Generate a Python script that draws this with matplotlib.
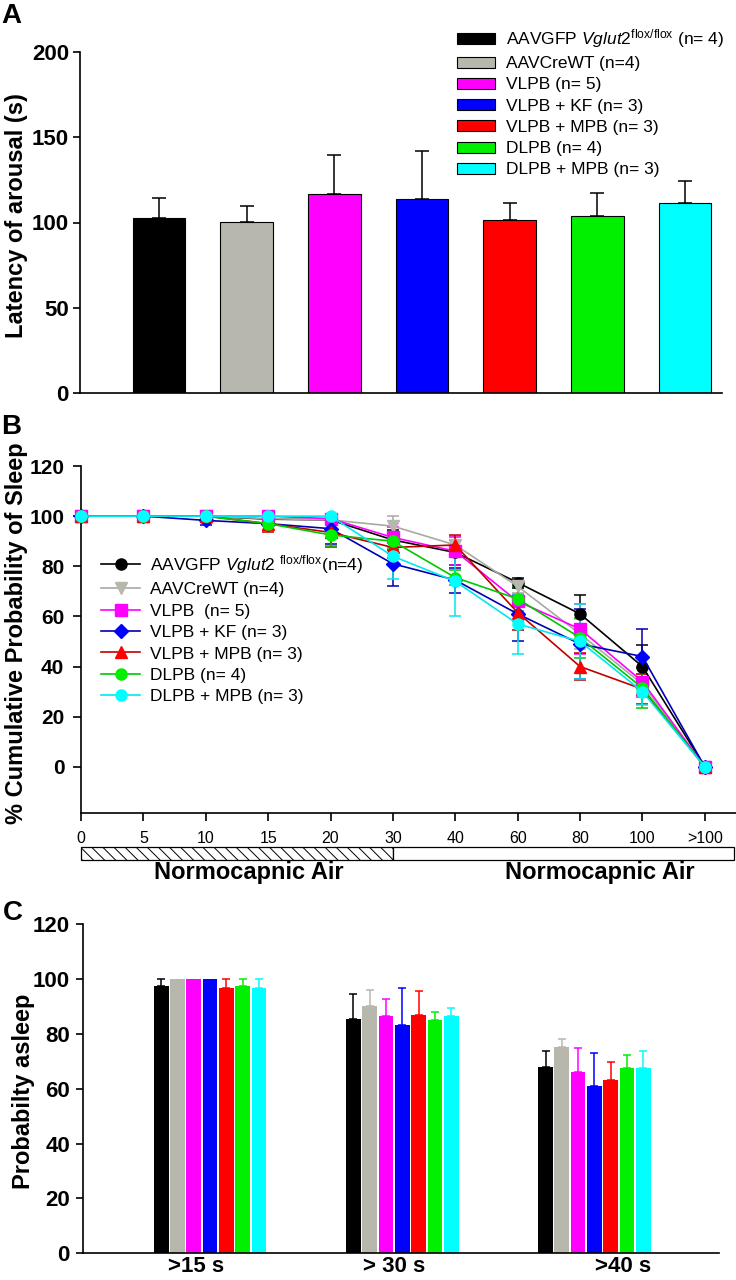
import matplotlib
matplotlib.use('Agg')
import matplotlib.pyplot as plt
from matplotlib.patches import Rectangle, Patch
import numpy as np

plt.rcParams['font.family'] = ['Liberation Sans', 'DejaVu Sans']
plt.rcParams['mathtext.fontset'] = 'custom'
plt.rcParams['mathtext.rm'] = 'Liberation Sans'
plt.rcParams['mathtext.it'] = 'Liberation Sans:italic'
plt.rcParams['mathtext.bf'] = 'Liberation Sans:bold'
plt.rcParams['hatch.linewidth'] = 0.7

# ---------------- data ----------------
group_labels_a = [r'AAVGFP $\mathit{Vglut2}^{\mathregular{flox/flox}}$ (n= 4)',
                  'AAVCreWT (n=4)', 'VLPB (n= 5)', 'VLPB + KF (n= 3)',
                  'VLPB + MPB (n= 3)', 'DLPB (n= 4)', 'DLPB + MPB (n= 3)']
group_labels_b = [r'AAVGFP $\mathit{Vglut2}$ $^{\mathregular{flox/flox}}$(n=4)',
                  'AAVCreWT (n=4)', 'VLPB  (n= 5)', 'VLPB + KF (n= 3)',
                  'VLPB + MPB (n= 3)', 'DLPB (n= 4)', 'DLPB + MPB (n= 3)']
bar_colors = ['#000000', '#B8B7AD', '#FF00FF', '#0000FF', '#FF0000', '#00F000', '#00FFFF']
line_colors = ['#000000', '#A8A8A4', '#FF00FF', '#0000B0', '#C00000', '#00C800', '#00E8F0']
markers = ['o', 'v', 's', 'D', '^', 'o', 'o']

# Panel A: latency of arousal (s)
latency_mean = [102.4, 100.3, 116.7, 113.6, 101.6, 104.1, 111.3]
latency_sem = [11.8, 9.6, 23.0, 28.6, 10.0, 13.4, 13.0]

# Panel B: cumulative probability of sleep
time_labels = ['0', '5', '10', '15', '20', '30', '40', '60', '80', '100', '>100']
cum_black = [100, 100, 100, 98.8, 98.5, 90.5, 85.5, 73.5, 61.0, 40.0, 0]
cum_gray = [100, 100, 100, 99.0, 98.5, 96.0, 88.5, 72.0, 53.0, 33.0, 0]
cum_magenta = [100, 100, 100, 100, 99.0, 91.5, 86.0, 66.0, 55.0, 34.0, 0]
cum_blue = [100, 100, 98.3, 97.0, 95.0, 81.0, 74.5, 61.0, 49.0, 44.0, 0]
cum_red = [100, 100, 100, 97.0, 93.5, 87.5, 88.5, 61.5, 40.0, 31.0, 0]
cum_green = [100, 100, 100, 97.0, 92.5, 90.0, 75.5, 67.0, 51.5, 31.5, 0]
cum_cyan = [100, 100, 100, 100, 100, 84.0, 74.0, 57.0, 50.0, 30.0, 0]
err_black = [0, 0, 0, 1.2, 1.5, 4.0, 5.0, 2.0, 7.5, 8.5, 0]
err_gray = [0, 0, 0, 1.0, 1.5, 4.2, 3.5, 2.5, 6.0, 4.0, 0]
err_magenta = [0, 0, 0, 0, 1.0, 4.0, 5.5, 8.0, 10.0, 6.0, 0]
err_blue = [0, 0, 1.7, 3.0, 6.0, 9.0, 5.0, 11.0, 14.0, 11.0, 0]
err_red = [0, 0, 0, 3.3, 6.0, 4.0, 4.0, 7.0, 5.5, 6.0, 0]
err_green = [0, 0, 0, 3.0, 4.5, 3.0, 3.0, 5.0, 8.0, 8.0, 0]
err_cyan = [0, 0, 0, 0, 0, 9.0, 14.0, 12.0, 15.0, 5.5, 0]
cum_series = [cum_black, cum_gray, cum_magenta, cum_blue, cum_red, cum_green, cum_cyan]
cum_errors = [err_black, err_gray, err_magenta, err_blue, err_red, err_green, err_cyan]
phase_labels = ['Normocapnic Air', 'Normocapnic Air']

# Panel C: probability asleep
threshold_labels = ['>15 s', '> 30 s', '>40 s']
asleep_15 = [97.6, 100, 100, 100, 96.8, 97.6, 96.8]
asleep_30 = [85.4, 90.2, 86.6, 83.4, 87.0, 85.2, 86.4]
asleep_40 = [67.9, 75.2, 66.2, 60.9, 63.1, 67.7, 67.6]
asleep_err_15 = [2.5, 0, 0, 0, 3.3, 2.5, 3.3]
asleep_err_30 = [9.0, 5.7, 6.2, 13.4, 8.6, 2.7, 2.9]
asleep_err_40 = [6.0, 2.8, 8.8, 12.0, 6.5, 4.8, 6.2]

# ---------------- layout helpers ----------------
W, H = 736, 1280
fig = plt.figure(figsize=(W / 100, H / 100), dpi=100)


def ax_px(l, t, r, b):
    return fig.add_axes([l / W, 1 - b / H, (r - l) / W, (b - t) / H])


def style_axes(ax, lw=1.2):
    for s in ['top', 'right']:
        ax.spines[s].set_visible(False)
    for s in ['left', 'bottom']:
        ax.spines[s].set_linewidth(lw)


# ---------------- Panel A ----------------
axA = ax_px(80, 52, 722, 393)
style_axes(axA)
xa = np.arange(len(latency_mean))
axA.bar(xa, latency_mean, width=0.6, color=bar_colors, edgecolor='black', linewidth=0.8, zorder=2)
axA.errorbar(xa, latency_mean, yerr=[np.zeros(len(xa)), latency_sem], fmt='none',
             ecolor='black', elinewidth=1.1, capsize=4.7, capthick=1.1, zorder=1)
axA.set_xlim(-0.9, 6.42)
axA.set_ylim(0, 200)
axA.set_yticks([0, 50, 100, 150, 200])
axA.set_xticks([])
axA.tick_params(axis='y', length=5, width=1.2, pad=3, labelsize=16)
for t in axA.get_yticklabels():
    t.set_fontweight('bold')
fig.text(17 / W, 1 - 216 / H, 'Latency of arousal (s)', rotation=90, ha='center', va='center',
         fontsize=17, fontweight='bold')
handlesA = [Patch(facecolor=c, edgecolor='black', linewidth=0.8) for c in bar_colors]
legA = fig.legend(handlesA, group_labels_a, loc='upper left',
                  bbox_to_anchor=(457 / W, 1 - 27 / H), frameon=False, fontsize=12.5,
                  handlelength=2.2, handleheight=0.6, handletextpad=0.6, labelspacing=0.36,
                  borderpad=0, borderaxespad=0)
fig.text(1 / W, 1 - 3 / H, 'A', ha='left', va='top', fontsize=20, fontweight='bold')

# ---------------- Panel B ----------------
axB = ax_px(81, 466, 736, 812.7)
style_axes(axB)
xb = np.arange(len(time_labels))
line_handles = []
for vals, errs, lc, mc, mk, lab in zip(cum_series, cum_errors, line_colors, bar_colors, markers, group_labels_b):
    v = np.array(vals, dtype=float)
    e = np.array(errs, dtype=float)
    m = e > 0
    axB.errorbar(xb[m], v[m], yerr=e[m], fmt='none', ecolor=lc, elinewidth=1.1,
                 capsize=4.3, capthick=1.1, zorder=2)
    ms = 7 if mk == 'D' else 8
    h, = axB.plot(xb, v, color=lc, lw=1.2, marker=mk, ms=ms, mfc=mc, mec=mc, zorder=3, label=lab,
                  clip_on=False)
    line_handles.append(h)
axB.set_xlim(0, 10.5)
axB.set_ylim(-18.3, 120)
axB.set_yticks(np.arange(0, 121, 20))
axB.set_xticks(xb)
axB.set_xticklabels(time_labels)
axB.tick_params(axis='y', length=6, width=1.2, pad=6, labelsize=15)
axB.tick_params(axis='x', length=6, width=1.2, pad=7, labelsize=11.5)
for t in axB.get_yticklabels():
    t.set_fontweight('bold')
fig.text(17 / W, 1 - 633 / H, '% Cumulative Probability of Sleep', rotation=90, ha='center',
         va='center', fontsize=17, fontweight='bold')
legB = fig.legend(line_handles, group_labels_b, loc='upper left',
                  bbox_to_anchor=(101.5 / W, 1 - 553 / H), frameon=False, fontsize=12.5,
                  handlelength=2.2, handletextpad=0.6, labelspacing=0.36, numpoints=1,
                  borderpad=0, borderaxespad=0)
fig.text(1 / W, 1 - 414 / H, 'B', ha='left', va='top', fontsize=20, fontweight='bold')

# hatched phase bar
axH = ax_px(81, 847, 736, 860)
axH.set_xlim(0, 10.5)
axH.set_ylim(0, 1)
axH.axis('off')
axH.add_patch(Rectangle((0, 0), 5, 1, facecolor='white', edgecolor='black', lw=0.9,
                        hatch='\\\\\\', clip_on=False))
axH.add_patch(Rectangle((5, 0), 5.47, 1, facecolor='white', edgecolor='black', lw=0.9,
                        clip_on=False))
fig.text(249 / W, 1 - 873 / H, phase_labels[0], ha='center', va='center', fontsize=17,
         fontweight='bold')
fig.text(600 / W, 1 - 873 / H, phase_labels[1], ha='center', va='center', fontsize=17,
         fontweight='bold')

# ---------------- Panel C ----------------
axC = ax_px(82.5, 924.3, 719, 1253.3)
style_axes(axC)
xc = np.arange(len(threshold_labels))
slot = 0.0849
asleep = np.array([asleep_15, asleep_30, asleep_40])
asleep_err = np.array([asleep_err_15, asleep_err_30, asleep_err_40])
for i, c in enumerate(bar_colors):
    pos = xc + (i - 3) * slot
    axC.bar(pos, asleep[:, i], width=slot * 0.9, color=c, zorder=2)
    e = asleep_err[:, i]
    m = e > 0
    axC.errorbar(pos[m], asleep[m, i], yerr=[np.zeros(m.sum()), e[m]], fmt='none', ecolor=c,
                 elinewidth=1.1, capsize=3.2, capthick=1.1, zorder=1)
axC.set_xlim(-0.664, 2.648)
axC.set_ylim(0, 120)
axC.set_yticks(np.arange(0, 121, 20))
label_offsets = [-0.073, -0.044, 0.148]
axC.set_xticks(xc + np.array(label_offsets))
axC.set_xticklabels(threshold_labels)
axC.tick_params(axis='x', length=0, pad=2, labelsize=16)
axC.tick_params(axis='y', length=5, width=1.2, pad=4, labelsize=16)
for t in axC.get_yticklabels() + axC.get_xticklabels():
    t.set_fontweight('bold')
fig.text(24 / W, 1 - 1091 / H, 'Probabilty asleep', rotation=90, ha='center', va='center',
         fontsize=17, fontweight='bold')
fig.text(3 / W, 1 - 900 / H, 'C', ha='left', va='top', fontsize=20, fontweight='bold')

fig.savefig('out.png', dpi=100)
